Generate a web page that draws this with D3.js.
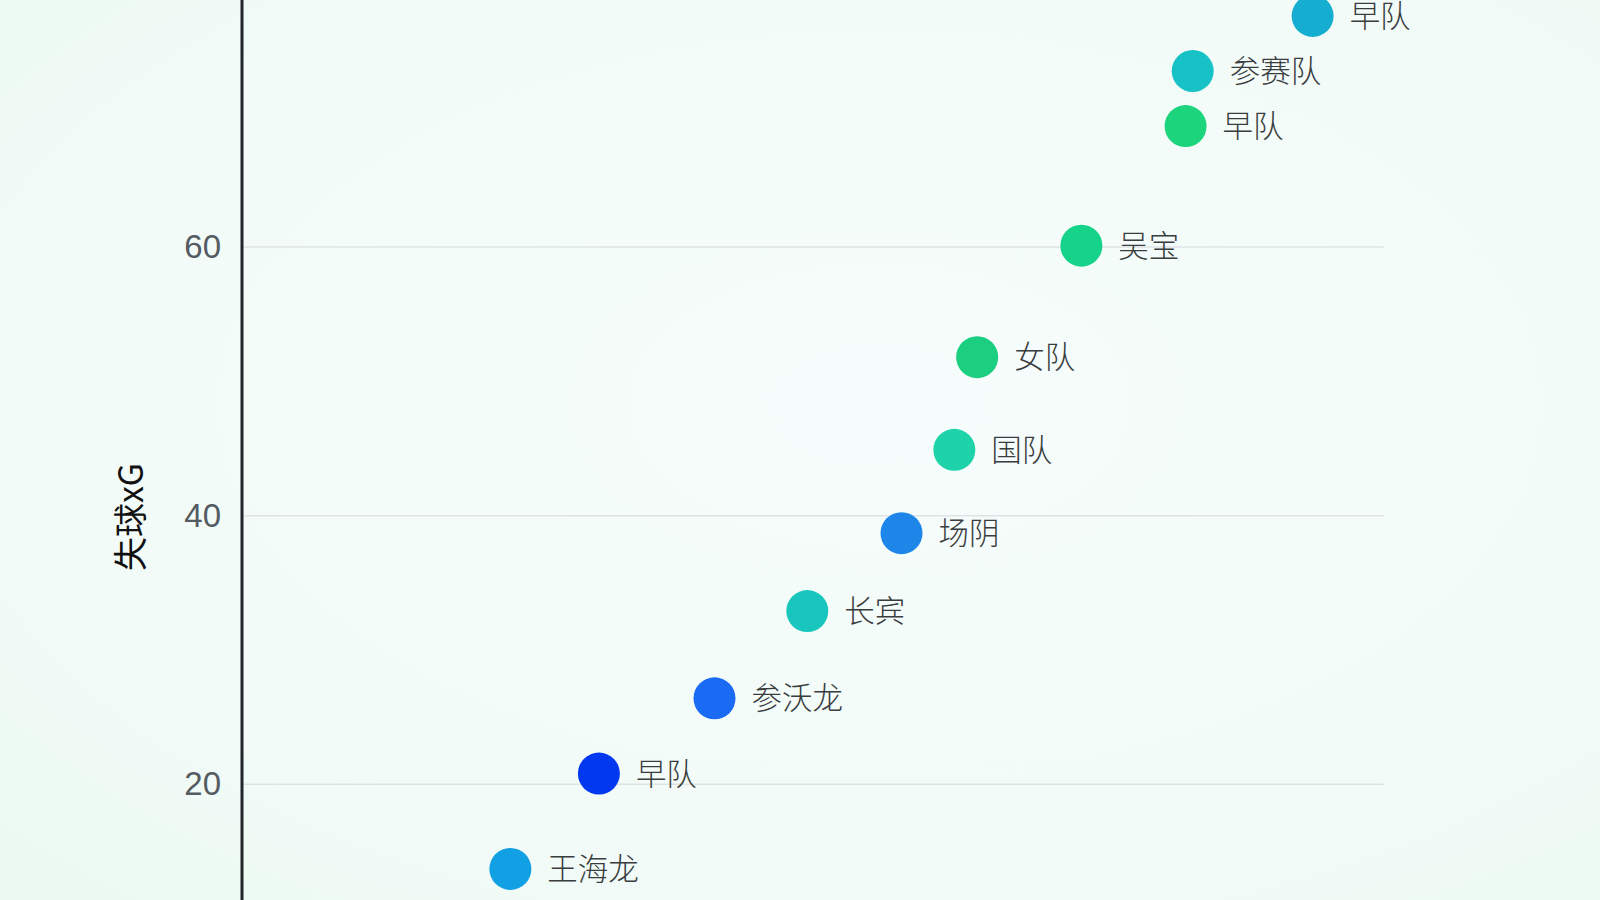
<!DOCTYPE html>
<html>
<head>
<meta charset="utf-8">
<script src="https://cdn.jsdelivr.net/npm/d3@7"></script>
<style>
  html, body { margin: 0; padding: 0; background: #f1fbf7; }
  svg { display: block; }
</style>
</head>
<body>
<div id="chart"></div>
<script>
var w = 1600;
var h = 900;

// data
var teams = ["早队", "参赛队", "早队", "吴宝", "女队", "国队", "场阴", "长宾", "参沃龙", "早队", "王海龙"];
var goalsXG = [75.0, 66.6, 66.1, 58.8, 51.5, 49.9, 46.2, 39.6, 33.1, 25.0, 18.8];
var concededXG = [77.2, 73.1, 69.0, 60.1, 51.8, 44.9, 38.7, 32.9, 26.4, 20.8, 13.7];
var dotColors = ["#16aed0", "#17c2c6", "#1cd47c", "#16d38a", "#1ccf80", "#1ed3aa",
                 "#1d86e8", "#18c6bd", "#1a6af4", "#0238ef", "#12a0e4"];
var yTicks = [20, 40, 60];

var dataset = teams.map(function(t, i) {
  return {team: t, x: goalsXG[i], y: concededXG[i], color: dotColors[i]};
});

var xScale = d3.scaleLinear()
               .domain([0, 80])
               .range([242, 1384]);

var yScale = d3.scaleLinear()
               .domain([0, 60])
               .range([1053, 247]);

var svg = d3.select("#chart")
            .append("svg")
            .attr("width", w)
            .attr("height", h);

// soft mint background
var defs = svg.append("defs");
var bg = defs.append("radialGradient")
             .attr("id", "bg")
             .attr("cx", "55%").attr("cy", "45%").attr("r", "80%");
bg.append("stop").attr("offset", "0%").attr("stop-color", "#f6fdfc");
bg.append("stop").attr("offset", "65%").attr("stop-color", "#f2fbf8");
bg.append("stop").attr("offset", "100%").attr("stop-color", "#eaf8f0");

svg.append("rect")
   .attr("width", w)
   .attr("height", h)
   .attr("fill", "url(#bg)");

// gridlines
svg.append("g")
   .attr("class", "grid")
   .selectAll("line")
   .data(yTicks)
   .enter()
   .append("line")
   .attr("x1", xScale(0))
   .attr("x2", xScale(80))
   .attr("y1", function(d) { return yScale(d); })
   .attr("y2", function(d) { return yScale(d); })
   .attr("stroke", "#dfe3e3")
   .attr("stroke-width", 1.5);

// y axis
var yAxis = d3.axisLeft()
              .scale(yScale)
              .tickValues(yTicks)
              .tickSize(0)
              .tickPadding(21);

var gy = svg.append("g")
   .attr("class", "y axis")
   .attr("transform", "translate(" + xScale(0) + ",0)")
   .call(yAxis);

gy.select(".domain").remove();
gy.selectAll("text")
  .attr("font-family", "Liberation Sans, Arial, sans-serif")
  .attr("font-size", 33)
  .attr("fill", "#555b62");

svg.append("line")
   .attr("x1", xScale(0))
   .attr("x2", xScale(0))
   .attr("y1", 0)
   .attr("y2", h)
   .attr("stroke", "#22262a")
   .attr("stroke-width", 3);

svg.append("text")
   .attr("transform", "translate(143," + 517 + ") rotate(-90)")
   .attr("text-anchor", "middle")
   .attr("font-family", "Noto Sans CJK SC, sans-serif")
   .attr("font-size", 34)
   .attr("fill", "#111")
   .text("失球xG");

// points
var pts = svg.append("g")
   .attr("class", "points")
   .selectAll("g")
   .data(dataset)
   .enter()
   .append("g");

pts.append("circle")
   .attr("cx", function(d) { return xScale(d.x); })
   .attr("cy", function(d) { return yScale(d.y); })
   .attr("r", 21)
   .attr("fill", function(d) { return d.color; });

pts.append("text")
   .attr("x", function(d) { return xScale(d.x) + 37; })
   .attr("y", function(d) { return yScale(d.y); })
   .attr("dy", "0.36em")
   .attr("font-family", "Noto Sans CJK SC, sans-serif")
   .attr("font-weight", 300)
   .attr("font-size", 30.5)
   .attr("fill", "#3a3d40")
   .text(function(d) { return d.team; });
</script>
</body>
</html>
